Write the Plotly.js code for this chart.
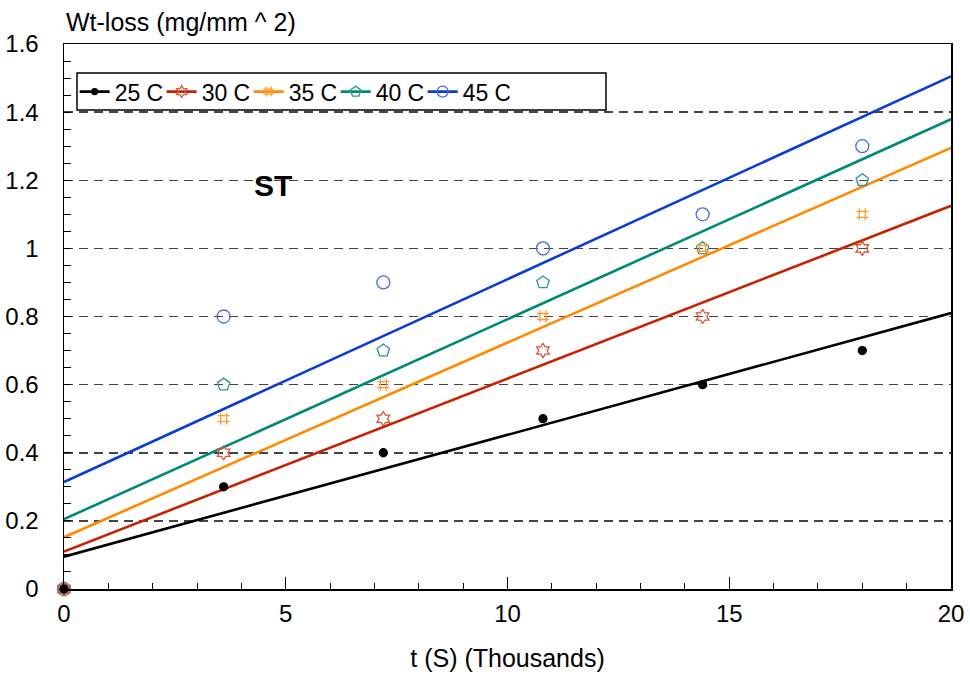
<!DOCTYPE html>
<html>
<head>
<meta charset="utf-8">
<script src="https://cdn.plot.ly/plotly-3.0.1.min.js"></script>
<style>
  html, body { margin: 0; padding: 0; background: #fff; }
  #chart { width: 970px; height: 679px; }
</style>
</head>
<body>
<div id="chart"></div>
<script>
// ---- data ----
const seriesNames = ["25 C", "30 C", "35 C", "40 C", "45 C"];
const timeK = [0, 3.6, 7.2, 10.8, 14.4, 18];           // t (S) in thousands
const loss25 = [0, 0.3, 0.4, 0.5, 0.6, 0.7];
const loss30 = [0, 0.4, 0.5, 0.7, 0.8, 1.0];
const loss35 = [0, 0.5, 0.6, 0.8, 1.0, 1.1];
const loss40 = [0, 0.6, 0.7, 0.9, 1.0, 1.2];
const loss45 = [0, 0.8, 0.9, 1.0, 1.1, 1.3];
// fitted trend lines, read at t = 0 and t = 20
const fitX = [0, 20];
const fit25 = [0.095, 0.81];
const fit30 = [0.11, 1.125];
const fit35 = [0.152, 1.295];
const fit40 = [0.205, 1.379];
const fit45 = [0.314, 1.505];
const xTicks = [0, 5, 10, 15, 20];
const yTicks = [0, 0.2, 0.4, 0.6, 0.8, 1, 1.2, 1.4, 1.6];

const lossData = [loss25, loss30, loss35, loss40, loss45];
const fitData = [fit25, fit30, fit35, fit40, fit45];

// ---- styles ----
const lineColors = ["#000000", "#c92100", "#ff8a00", "#00897b", "#0a3ed2"];
const markColors = ["#000000", "#d9563b", "#ff9a2e", "#27988f", "#4a6edb"];
const symbols = ["circle", "hexagram-open", "hash-open", "pentagon-open", "circle-open"];
const sizes = [8, 11, 12, 13, 13];

const FONT = "Liberation Sans, Arial, Helvetica, sans-serif";
const traces = [];

// fit lines (drawn first)
for (let i = 0; i < 5; i++) {
  traces.push({
    x: fitX, y: fitData[i], mode: "lines", type: "scatter",
    line: { color: lineColors[i], width: 2.6 },
    showlegend: false, hoverinfo: "skip"
  });
}
// markers (45 first so the black dots sit on top)
for (let i = 4; i >= 0; i--) {
  traces.push({
    x: timeK, y: lossData[i], mode: "markers", type: "scatter",
    marker: { symbol: symbols[i], size: sizes[i], color: markColors[i],
              line: { color: markColors[i], width: 1.3 } },
    showlegend: false, cliponaxis: false
  });
}
// legend entries
for (let i = 0; i < 5; i++) {
  traces.push({
    x: [null], y: [null], mode: "lines+markers", type: "scatter",
    name: seriesNames[i],
    line: { color: lineColors[i], width: 2.6 },
    marker: { symbol: symbols[i], size: sizes[i] - 2, color: markColors[i],
              line: { color: markColors[i], width: 1.3 } },
    showlegend: true
  });
}

const layout = {
  width: 970, height: 679,
  margin: { l: 64, r: 19, t: 44, b: 90 },
  paper_bgcolor: "#fff", plot_bgcolor: "#fff",
  font: { family: FONT, size: 24, color: "#000" },
  showlegend: true,
  legend: {
    orientation: "h", x: 0.012, y: 0.952, xanchor: "left", yanchor: "top",
    bgcolor: "rgba(0,0,0,0)", borderwidth: 0,
    font: { family: FONT, size: 23, color: "#000" },
    itemwidth: 30, tracegroupgap: 0, entrywidth: 42, entrywidthmode: "pixels"
  },
  xaxis: {
    range: [0, 20], tickvals: xTicks, ticktext: xTicks.map(String),
    showgrid: false, zeroline: false,
    showline: true, mirror: true, linecolor: "#000", linewidth: 1.5,
    ticks: "inside", ticklen: 12, tickwidth: 1, tickcolor: "#000",
    minor: { dtick: 1, ticks: "inside", ticklen: 6, tickcolor: "#000", tickwidth: 1, showgrid: false },
    tickfont: { family: FONT, size: 24 },
    ticklabelstandoff: 3,
    title: { text: "t (S) (Thousands)", font: { family: FONT, size: 25 }, standoff: 23 }
  },
  yaxis: {
    range: [0, 1.6], tickvals: yTicks, ticktext: yTicks.map(String),
    showgrid: true, gridcolor: "#444", gridwidth: 1.5, griddash: "9px,6px",
    zeroline: false,
    showline: true, mirror: true, linecolor: "#000", linewidth: 1.5,
    ticks: "inside", ticklen: 7, tickwidth: 1, tickcolor: "#000",
    minor: { dtick: 0.05, ticks: "inside", ticklen: 7, tickcolor: "#000", tickwidth: 1, showgrid: false },
    tickfont: { family: FONT, size: 24 },
    ticklabelstandoff: 19
  },
  shapes: [
    { type: "rect", xref: "paper", yref: "paper",
      x0: 13 / 887, x1: 542 / 887, y0: (589 - 110) / 545, y1: (589 - 73) / 545,
      fillcolor: "rgba(255,255,255,1)", line: { color: "#000", width: 1.5 }, layer: "above" }
  ],
  annotations: [
    { text: "Wt-loss (mg/mm ^ 2)", xref: "paper", yref: "paper",
      x: 0, y: (589 - 22) / 545, xanchor: "left", yanchor: "middle",
      showarrow: false, font: { family: FONT, size: 25 } },
    { text: "<b>ST</b>", xref: "x", yref: "y", x: 4.72, y: 1.185,
      xanchor: "center", yanchor: "middle", showarrow: false,
      font: { family: FONT, size: 30 } }
  ]
};

Plotly.newPlot("chart", traces, layout, { displayModeBar: false, staticPlot: true });
</script>
</body>
</html>
